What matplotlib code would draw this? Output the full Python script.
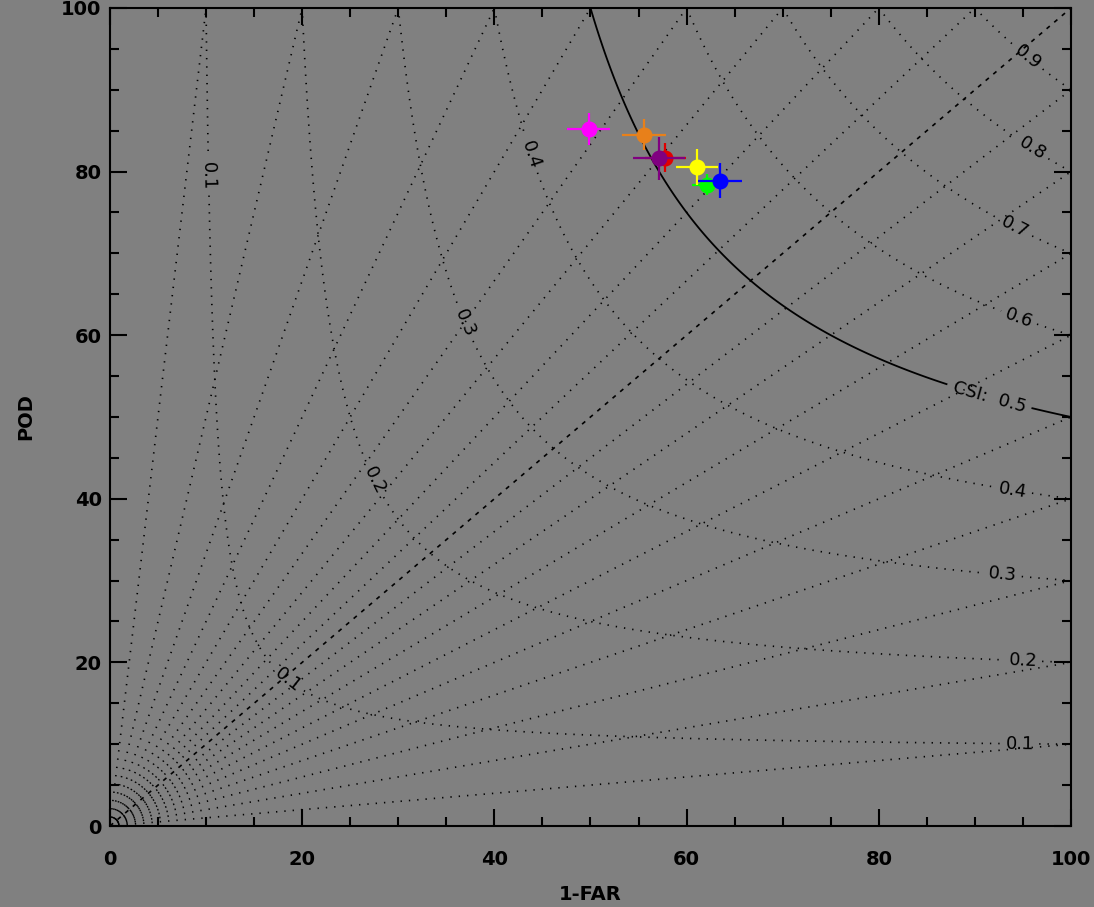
import numpy as np
import matplotlib
matplotlib.use('Agg')
import matplotlib.pyplot as plt
from matplotlib.ticker import MultipleLocator

# points: success ratio (1-FAR) and POD, in percent, with error half-widths
colors = ['#ff00ff', '#e8801a', '#e00000', '#800080', '#00ff00', '#ffff00', '#0000ff']
sr = [49.8, 55.6, 57.8, 57.1, 62.1, 61.1, 63.5]
pod = [85.2, 84.5, 81.7, 81.6, 78.4, 80.5, 78.9]
sr_err = [2.2, 2.3, 2.1, 2.7, 1.5, 2.2, 2.3]
pod_err = [2.0, 1.9, 1.8, 2.6, 1.3, 2.2, 2.1]

# bias rays end on the top edge at these SR values, or on the right edge at these POD values
bias_top_sr = [10, 20, 30, 40, 50, 60, 70, 80, 90]
bias_right_pod = [10, 20, 30, 40, 50, 60, 70, 80, 90]

csi_levels = [0.1, 0.2, 0.3, 0.4, 0.6, 0.7, 0.8, 0.9]
csi_main = 0.5

bg = '#808080'
dot = (0, (0.8, 4.2))

fig = plt.figure(figsize=(10.94, 9.07), dpi=100, facecolor=bg)
ax = fig.add_axes([0.1005, 0.0893, 0.8785, 0.9019])
ax.set_facecolor(bg)

# bias lines
for x in bias_top_sr:
    ax.plot([0, x], [0, 100], color='black', lw=1.2, linestyle=dot)
for y in bias_right_pod:
    ax.plot([0, 100], [0, y], color='black', lw=1.2, linestyle=dot)
ax.plot([0, 100], [0, 100], color='black', lw=1.2, linestyle=(0, (2.5, 3.5)))

# CSI contours
g = np.linspace(0.05, 100, 800)
X, Y = np.meshgrid(g, g)
CSI = 1.0 / (100.0 / X + 100.0 / Y - 1.0)

cs = ax.contour(X, Y, CSI, levels=csi_levels, colors='black', linewidths=1.2)
cs.set_linestyle(dot)
ax.clabel(cs, fmt='%.1f', fontsize=13, inline=True, inline_spacing=4,
          manual=[(95.7, 94.3), (96, 82.9), (94.4, 73.7), (94.7, 62.5),
                  (94, 41.3), (92.9, 30.9), (95, 20.3), (94.7, 10.1),
                  (10.1, 79.4), (18.5, 17.8), (27.6, 42.3), (36.7, 61.3), (43.9, 82.1)])

cs5 = ax.contour(X, Y, CSI, levels=[csi_main], colors='black', linewidths=1.3)
ax.clabel(cs5, fmt={csi_main: 'CSI:  0.5'}, fontsize=13, inline=True,
          inline_spacing=4, manual=[(91.5, 52.5)])

# points with error crosses
for i in range(len(sr)):
    ax.errorbar(sr[i], pod[i], xerr=sr_err[i], yerr=pod_err[i], fmt='o',
                color=colors[i], ms=10.5, elinewidth=1.6, capsize=0, zorder=5 + i)

ax.set_xlim(0, 100)
ax.set_ylim(0, 100)
ax.set_xticks(range(0, 101, 20))
ax.set_yticks(range(0, 101, 20))
ax.xaxis.set_minor_locator(MultipleLocator(5))
ax.yaxis.set_minor_locator(MultipleLocator(5))
ax.tick_params(which='both', direction='in', top=True, right=True,
               color='black', width=1.5)
ax.tick_params(which='major', length=12)
ax.tick_params(which='minor', length=6.5)
ax.tick_params(axis='x', pad=17)
ax.tick_params(axis='y', pad=6)
plt.setp(ax.get_xticklabels() + ax.get_yticklabels(), fontweight='bold', fontsize=14)
for s in ax.spines.values():
    s.set_linewidth(1.5)

ax.set_xlabel('1-FAR', fontsize=14, fontweight='bold', va='center')
ax.set_ylabel('POD', fontsize=14, fontweight='bold', va='center')
ax.xaxis.set_label_coords(0.5, -0.084)
ax.yaxis.set_label_coords(-0.088, 0.5)

fig.savefig('out.png', dpi=100, facecolor=bg)
